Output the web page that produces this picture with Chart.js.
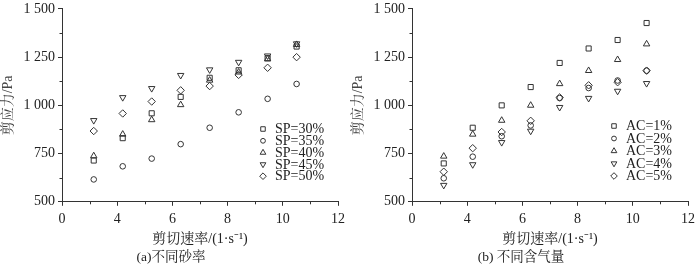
<!DOCTYPE html>
<html>
<head>
<meta charset="utf-8">
<script src="https://cdn.jsdelivr.net/npm/chart.js@4/dist/chart.umd.min.js"></script>
<style>
  html, body { margin: 0; padding: 0; background: #fff; }
  #wrap  { position: relative; width: 700px; height: 268px; }
  .panel { position: absolute; top: 0; width: 350px; height: 268px; }
</style>
</head>
<body>
<div id="wrap">
  <div class="panel" style="left:0"><canvas id="chart-sp" width="350" height="268"></canvas></div>
  <div class="panel" style="left:350px"><canvas id="chart-ac" width="350" height="268"></canvas></div>
</div>
<script>
// ── Data ──────────────────────────────────────────────────────────────────────
const shearRate = [3.15, 4.2, 5.25, 6.3, 7.35, 8.4, 9.45, 10.5];

// broken x axis: first label reads "0" where the scale actually starts at 2
const xTickLabels = ['0', '4', '6', '8', '10', '12'];
const yTickLabels = ['500', '750', '1 000', '1 250', '1 500'];
const xMinor = [3, 5, 7, 9, 11];
const yMinor = [625, 875, 1125, 1375];

const spLabels = ['SP=30%', 'SP=35%', 'SP=40%', 'SP=45%', 'SP=50%'];
const sp30 = [714, 830, 959, 1044, 1143, 1182, 1245, 1305];
const sp35 = [616, 684, 724, 799, 884, 964, 1034, 1111];
const sp40 = [738, 850, 925, 1003, 1130, 1172, 1240, 1315];
const sp45 = [922, 1041, 1088, 1156, 1185, 1224, 1257, 1320];
const sp50 = [867, 958, 1020, 1078, 1100, 1158, 1195, 1250];

const acLabels = ['AC=1%', 'AC=2%', 'AC=3%', 'AC=4%', 'AC=5%'];
const ac1 = [699, 884, 1000, 1095, 1220, 1295, 1339, 1427];
const ac2 = [622, 734, 840, 896, 1038, 1090, 1129, 1180];
const ac3 = [736, 850, 922, 1000, 1112, 1180, 1237, 1318];
const ac4 = [586, 693, 808, 867, 990, 1037, 1074, 1114];
const ac5 = [656, 778, 862, 920, 1041, 1104, 1120, 1180];

const xTitle = '剪切速率/(1·s⁻¹)';
const yTitle = '剪应力/Pa';

// ── Styles ────────────────────────────────────────────────────────────────────
const SERIF = "'Liberation Serif', 'Times New Roman', 'Noto Serif CJK SC', 'Noto Sans CJK SC', serif";
const INK   = '#222';
const AXIS  = '#333';

const MARKERS = [
  { pointStyle: 'rect',     radius: 3.6, rotation: 0   },
  { pointStyle: 'circle',   radius: 2.8, rotation: 0   },
  { pointStyle: 'triangle', radius: 3.7, rotation: 0   },
  { pointStyle: 'triangle', radius: 3.7, rotation: 180 },
  { pointStyle: 'rectRot',  radius: 3.7, rotation: 0   },
];

// small outward minor ticks between the labelled ones
const minorTicks = {
  id: 'minorTicks',
  afterDraw(chart) {
    const { ctx, scales: { x, y } } = chart;
    ctx.save();
    ctx.strokeStyle = AXIS;
    ctx.lineWidth = 1;
    xMinor.forEach(v => {
      const px = Math.round(x.getPixelForValue(v)) + 0.5;
      ctx.beginPath(); ctx.moveTo(px, y.bottom); ctx.lineTo(px, y.bottom + 2.5); ctx.stroke();
    });
    yMinor.forEach(v => {
      const py = Math.round(y.getPixelForValue(v)) + 0.5;
      ctx.beginPath(); ctx.moveTo(x.left, py); ctx.lineTo(x.left - 2.5, py); ctx.stroke();
    });
    ctx.restore();
  },
};

// legend drawn inside the plot, lower right, no frame
const innerLegend = {
  id: 'innerLegend',
  afterDraw(chart, args, opts) {
    const { ctx } = chart;
    ctx.save();
    ctx.font = `${opts.size}px ${SERIF}`;
    ctx.textBaseline = 'middle';
    chart.data.datasets.forEach((ds, i) => {
      const y = opts.y + i * opts.step;
      const m = MARKERS[i];
      ctx.strokeStyle = AXIS;
      ctx.fillStyle = 'rgba(255,255,255,0)';
      ctx.lineWidth = 1;
      Chart.helpers.drawPoint(ctx, { pointStyle: m.pointStyle, radius: m.radius - 0.4, rotation: m.rotation, borderWidth: 1 }, opts.x, y);
      ctx.fillStyle = INK;
      ctx.fillText(ds.label, opts.x + 12, y + 0.5);
    });
    ctx.restore();
  },
};

function makeChart(id, labels, series, caption, legendAt) {
  const datasets = series.map((vals, i) => ({
    label:            labels[i],
    data:             shearRate.map((x, j) => ({ x, y: vals[j] })),
    pointStyle:       MARKERS[i].pointStyle,
    pointRadius:      MARKERS[i].radius,
    pointRotation:    MARKERS[i].rotation,
    pointBorderWidth: 1,
    borderColor:      AXIS,
    backgroundColor:  'rgba(255,255,255,0)',
    showLine:         false,
  }));

  return new Chart(document.getElementById(id), {
    type: 'scatter',
    data: { datasets },
    plugins: [minorTicks, innerLegend],
    options: {
      responsive: false,
      animation: false,
      devicePixelRatio: 1,
      layout: { padding: { left: 0, right: 8, top: 0, bottom: 0 } },
      plugins: {
        legend:  { display: false },
        tooltip: { enabled: false },
        title: {
          display: true, position: 'bottom', text: caption, color: INK,
          font: { family: SERIF, size: 13.5, weight: 'normal' },
          padding: { top: 2, bottom: 2 },
        },
        innerLegend: { x: legendAt[0], y: legendAt[1], step: legendAt[2], size: 14 },
      },
      scales: {
        x: {
          type: 'linear', min: 2, max: 12,
          ticks: {
            stepSize: 2, padding: 5, color: INK, maxRotation: 0,
            font: { family: SERIF, size: 14 },
            callback: (v, i) => xTickLabels[i],
          },
          grid:   { drawOnChartArea: false, drawTicks: true, tickLength: 4, color: AXIS },
          border: { display: true, color: AXIS, width: 1 },
          title:  { display: true, text: xTitle, color: INK, font: { family: SERIF, size: 14 }, padding: { top: 0, bottom: 0 } },
          afterFit: s => { s.height = 46; },
        },
        y: {
          type: 'linear', min: 500, max: 1500,
          ticks: {
            stepSize: 250, padding: 3, color: INK,
            font: { family: SERIF, size: 14, lineHeight: 0.85 },
            callback: (v, i) => yTickLabels[i],
          },
          grid:   { drawOnChartArea: false, drawTicks: true, tickLength: 4, color: AXIS },
          border: { display: true, color: AXIS, width: 1 },
          title:  { display: true, text: yTitle, color: '#444', font: { family: SERIF, size: 14 }, padding: 0 },
          afterFit: s => { s.width = 62; },
        },
      },
    },
  });
}

makeChart('chart-sp', spLabels, [sp30, sp35, sp40, sp45, sp50], '(a)不同砂率',   [263, 129, 11.8]);
makeChart('chart-ac', acLabels, [ac1, ac2, ac3, ac4, ac5],      '(b) 不同含气量', [264, 126, 12.5]);
</script>
</body>
</html>
